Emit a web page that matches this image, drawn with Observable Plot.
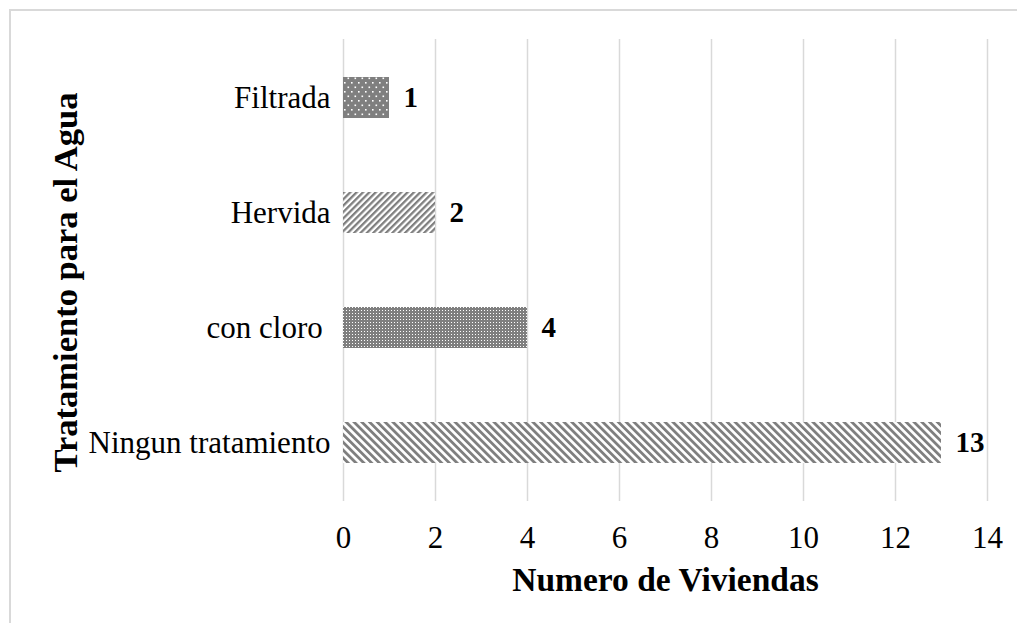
<!DOCTYPE html>
<html>
<head>
<meta charset="utf-8">
<script src="https://cdn.jsdelivr.net/npm/d3@7"></script>
<script src="https://cdn.jsdelivr.net/npm/@observablehq/plot@0.6"></script>
<style>
  html, body { margin: 0; padding: 0; background: #fff; overflow: hidden; }
  #wrap { position: relative; width: 1017px; height: 623px; overflow: hidden; }
  #frame { position: absolute; left: 9px; top: 9px; width: 1100px; height: 700px; border: 2px solid #d9d9d9; box-sizing: border-box; }
  #chart { position: absolute; left: 0; top: 0; }
</style>
</head>
<body>
<div id="wrap"><div id="frame"></div><div id="chart"></div></div>
<script>
const categories = ["Filtrada", "Hervida", "con cloro\u00a0", "Ningun tratamiento"];
const values = [1, 2, 4, 13];
const xTicks = [0, 2, 4, 6, 8, 10, 12, 14];
const xTitle = "Numero de Viviendas";
const yTitle = "Tratamiento para el Agua";
const patternIds = ["pDots", "pUp", "pSmallDots", "pDown"];

const rows = categories.map((c, i) => ({cat: c, value: values[i], pat: patternIds[i]}));
const font = "'Liberation Serif', 'Times New Roman', serif";

const bars = rows.map(r => Plot.barX([r], {
  x: "value", y: "cat", fill: `url(#${r.pat})`, insetTop: 37, insetBottom: 37
}));

const chart = Plot.plot({
  width: 1017,
  height: 623,
  marginTop: 39,
  marginBottom: 122,
  marginLeft: 343,
  marginRight: 30,
  style: {fontFamily: font, fontSize: "31px", color: "#000", background: "transparent"},
  x: {domain: [0, 14], ticks: xTicks, tickSize: 0, tickPadding: 24, label: null, tickFormat: d => String(d)},
  y: {domain: categories, padding: 0, tickSize: 0, tickPadding: 13, label: null},
  marks: [
    Plot.gridX(xTicks, {stroke: "#d9d9d9", strokeOpacity: 1, strokeWidth: 1.5}),
    ...bars,
    Plot.text(rows, {x: "value", y: "cat", text: d => String(d.value), dx: 14, textAnchor: "start",
      fontWeight: "bold", fontSize: 29, fill: "#000"}),
    Plot.text([xTitle], {frameAnchor: "bottom", dy: 79, lineAnchor: "middle", textAnchor: "middle",
      fontWeight: "bold", fontSize: 33.5, fill: "#000"}),
    Plot.text([yTitle], {frameAnchor: "left", dx: -278, dy: 12, rotate: -90, textAnchor: "middle", lineAnchor: "middle",
      fontWeight: "bold", fontSize: 34.5, fill: "#000"})
  ]
});

// pattern definitions
const svg = d3.select(chart);
const defs = svg.insert("defs", ":first-child");
const gray = "#7f7f7f";
let p = defs.append("pattern").attr("id", "pDots").attr("patternUnits", "userSpaceOnUse")
  .attr("width", 7).attr("height", 9);
p.append("rect").attr("width", 7).attr("height", 9).attr("fill", gray);
p.append("rect").attr("x", 1).attr("y", 1).attr("width", 1.6).attr("height", 1.6).attr("fill", "#fff");
p.append("rect").attr("x", 4.5).attr("y", 5.5).attr("width", 1.6).attr("height", 1.6).attr("fill", "#fff");
p = defs.append("pattern").attr("id", "pSmallDots").attr("patternUnits", "userSpaceOnUse")
  .attr("width", 3).attr("height", 3);
p.append("rect").attr("width", 3).attr("height", 3).attr("fill", gray);
p.append("rect").attr("x", 1).attr("y", 1).attr("width", 1).attr("height", 1).attr("fill", "#fff");
p = defs.append("pattern").attr("id", "pUp").attr("patternUnits", "userSpaceOnUse")
  .attr("width", 4.5).attr("height", 10).attr("patternTransform", "rotate(45)");
p.append("rect").attr("width", 4.5).attr("height", 10).attr("fill", "#fff");
p.append("rect").attr("width", 2.3).attr("height", 10).attr("fill", gray);
p = defs.append("pattern").attr("id", "pDown").attr("patternUnits", "userSpaceOnUse")
  .attr("width", 5.5).attr("height", 10).attr("patternTransform", "rotate(-45)");
p.append("rect").attr("width", 5.5).attr("height", 10).attr("fill", "#fff");
p.append("rect").attr("width", 2.8).attr("height", 10).attr("fill", gray);

document.getElementById("chart").appendChild(chart);
</script>
</body>
</html>
